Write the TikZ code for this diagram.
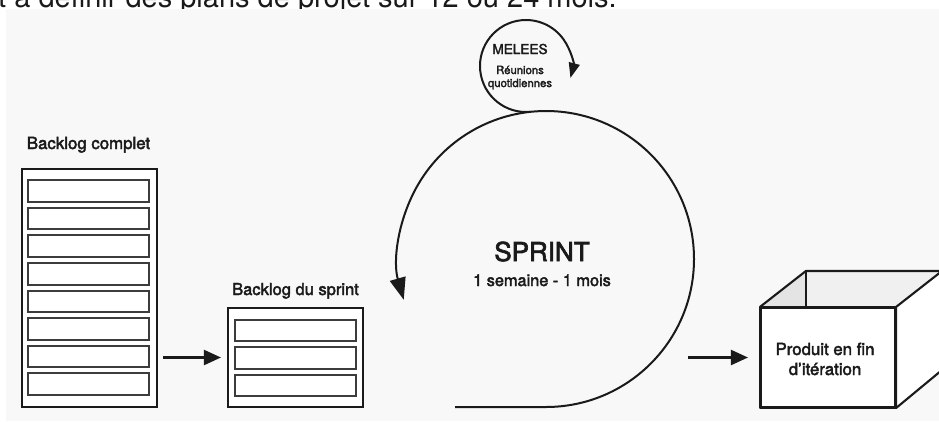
\documentclass[tikz,border=0pt]{standalone}
\usepackage{fontspec}
\setmainfont{TeX Gyre Heros}
\newfontfamily\medfont{TeX Gyre Heros}[FakeBold=2.5]
\usetikzlibrary{arrows.meta, calc}
\definecolor{panelgray}{HTML}{F8F8F8}
\definecolor{inkgray}{HTML}{1A1A1A}
\definecolor{insideleft}{HTML}{E4E4E4}
\definecolor{insideback}{HTML}{F0F0F0}

\begin{document}
\begin{tikzpicture}[x=1pt, y=1pt,
    outerbox/.style={draw=inkgray, line width=2.1pt, fill=white, minimum width=135pt, inner sep=0pt},
    itembox/.style={draw=inkgray!85, line width=2pt, fill=white, minimum width=121pt, minimum height=21.5pt, inner sep=0pt},
    flow/.style={draw=inkgray, line width=2.2pt, -{Triangle[length=17pt, width=15pt]}},
    cyclepath/.style={draw=inkgray, line width=2pt},
    cubeline/.style={draw=inkgray, line width=2.1pt, line join=round},
    lbl/.style={text=inkgray, anchor=base, inner sep=0pt},
]

    % --- Dimensions ---
    \def\PicW{939}
    \def\PicH{421}
    \def\RowPitch{27.6}
    \def\DepthX{46}   % depth of the open box
    \def\DepthY{36}

    \useasboundingbox (0,0) rectangle (\PicW,-\PicH);

    % --- Cut heading line from the page above ---
    \begin{scope}
        \clip (0,0) rectangle (\PicW,-9);
        \node[lbl, anchor=base west, font=\fontsize{29}{34}\selectfont] (heading) at (-2,-7.7)
            {t à définir des plans de projet sur 12 ou 24 mois.};
    \end{scope}

    % --- Grey panel ---
    \fill[panelgray] (6,-9) rectangle (\PicW,-\PicH);

    % --- Full backlog ---
    \node[lbl, font=\medfont\fontsize{16.8}{20}\selectfont] (fulltitle) at (88.5,-149) {Backlog complet};
    \node[outerbox, minimum height=238pt] (full) at (89.5,-288) {};
    \foreach \i in {0,...,7}
        \node[itembox] (full-\i) at (88.5,{-191-\RowPitch*\i}) {};

    % --- Sprint backlog ---
    \node[lbl, font=\medfont\fontsize{16.5}{20}\selectfont] (sprinttitle) at (295.5,-295) {Backlog du sprint};
    \node[outerbox, minimum height=99pt] (sprintlog) at (295.5,-357.5) {};
    \foreach \i in {0,1,2}
        \node[itembox] (sprintlog-\i) at (295.5,{-330.5-\RowPitch*\i}) {};

    \draw[flow] ($(full.east |- sprintlog.west)+(5,0)$) -- ($(sprintlog.west)+(-6,0)$);

    % --- Sprint cycle ---
    \draw[cyclepath, -{Triangle[length=22pt, width=16pt]}]
        (455,-407) -- (546,-407) arc[start angle=-90, end angle=196, radius=148];
    \node[lbl, font=\medfont\fontsize{26}{30}\selectfont] (sprintname) at (542,-261) {SPRINT};
    \node[lbl, font=\medfont\fontsize{16.3}{20}\selectfont] (sprintlen) at (542,-286) {1 semaine - 1 mois};

    % --- Daily meeting loop (tangent to the sprint cycle) ---
    \draw[cyclepath, -{Triangle[length=15pt, width=11pt]}]
        (530.8,-111.75) arc[start angle=-84, end angle=-375, radius=46];
    \node[lbl, font=\medfont\fontsize{13.6}{16}\selectfont] (melees) at (520,-54) {MELEES};
    \node[lbl, font=\medfont\fontsize{11.3}{14}\selectfont] (dailyone) at (520,-74) {Réunions};
    \node[lbl, font=\medfont\fontsize{11.3}{14}\selectfont] (dailytwo) at (520,-87) {quotidiennes};

    % --- Product box ---
    \node[cubeline, fill=white, minimum width=134pt, minimum height=99pt, inner sep=0pt] (product) at (828,-357.5) {};
    \fill[insideleft] (product.north west) -- ++(\DepthX,\DepthY) -- ++(0,-\DepthY) -- cycle;
    \fill[insideback] ($(product.north west)+(\DepthX,\DepthY)$) -- ($(product.north east)+(\DepthX,\DepthY)$)
        -- (product.north east) -- ($(product.north west)+(\DepthX,0)$) -- cycle;
    \filldraw[cubeline, fill=white] (product.north east) -- ++(\DepthX,\DepthY) -- ++(0,-99) -- (product.south east) -- cycle;
    \draw[cubeline] (product.north west) -- ++(\DepthX,\DepthY) -- ++(134,0);
    \draw[cubeline] ($(product.north west)+(\DepthX,\DepthY)$) -- ++(0,-\DepthY);
    \draw[cubeline] (product.north west) rectangle (product.south east);
    \node[lbl, font=\medfont\fontsize{16.8}{20}\selectfont] (productone) at (825,-355) {Produit en fin};
    \node[lbl, font=\medfont\fontsize{16.8}{20}\selectfont] (producttwo) at (825,-375) {d’itération};

    \coordinate (shipstart) at (688,-357.5);
    \draw[flow] (shipstart) -- ($(product.west)+(-12,0)$);

\end{tikzpicture}
\end{document}
